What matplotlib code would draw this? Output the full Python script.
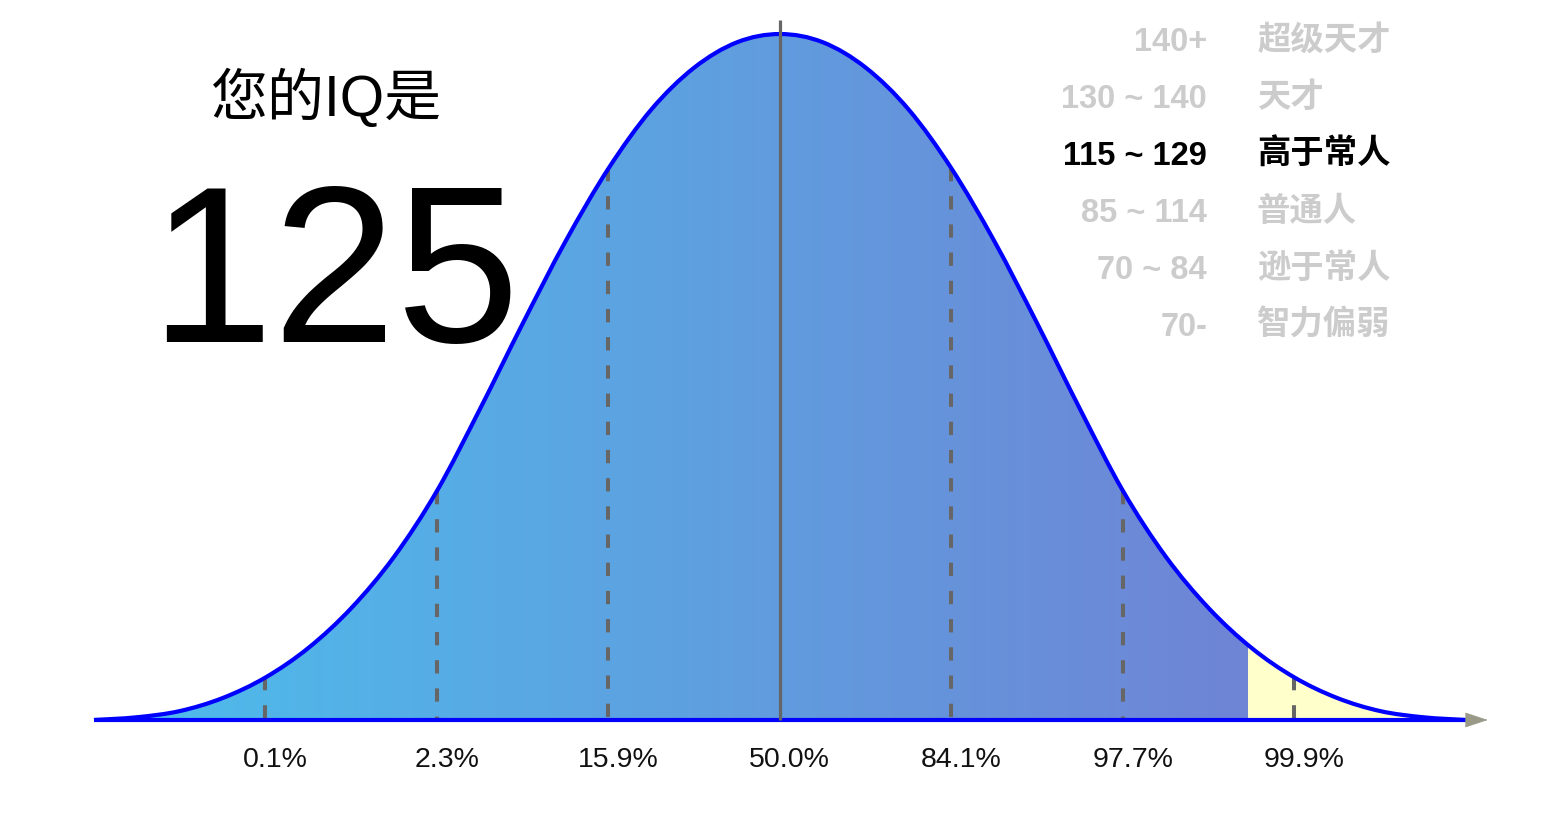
import numpy as np
import matplotlib.pyplot as plt
from matplotlib.path import Path
from matplotlib.patches import PathPatch

plt.rcParams['font.family'] = ['Liberation Sans', 'Noto Sans CJK SC', 'DejaVu Sans']

# bell curve (IQ, height relative to the peak)
curve_iq = [40.0, 43.75, 47.5, 51.25, 55.0, 58.75, 62.5, 66.25, 70.0, 73.75, 77.5,
            81.25, 85.0, 88.75, 92.5, 96.25, 100.0, 103.75, 107.5, 111.25, 115.0,
            118.75, 122.5, 126.25, 130.0, 133.75, 137.5, 141.25, 145.0, 148.75,
            152.5, 156.25, 160.0]
curve_h = [0.0, 0.004, 0.013, 0.032, 0.062, 0.105, 0.163, 0.238, 0.334, 0.453, 0.578,
           0.698, 0.804, 0.890, 0.951, 0.988, 1.0, 0.988, 0.951, 0.890, 0.804,
           0.698, 0.578, 0.453, 0.334, 0.238, 0.163, 0.105, 0.062, 0.032,
           0.013, 0.004, 0.0]

# sigma markers and their percentiles
marker_iq = [55, 70, 85, 100, 115, 130, 145]
marker_pct = ['0.1%', '2.3%', '15.9%', '50.0%', '84.1%', '97.7%', '99.9%']

# legend bands
band_ranges = ['140+', '130 ~ 140', '115 ~ 129', '85 ~ 114', '70 ~ 84', '70-']
band_names = ['超级天才', '天才', '高于常人', '普通人', '逊于常人', '智力偏弱']
current_band = 2

my_iq = 125
tail_start = 141  # where the yellow tail begins


def smooth_path(xs, ys):
    # catmull-rom through the read points, as cubic bezier pieces
    pts = np.column_stack([xs, ys])
    padded = np.vstack([pts[0], pts, pts[-1]])
    verts = [pts[0]]
    codes = [Path.MOVETO]
    for i in range(len(pts) - 1):
        p0, p1, p2, p3 = padded[i], padded[i + 1], padded[i + 2], padded[i + 3]
        verts += [p1 + (p2 - p0) / 6, p2 - (p3 - p1) / 6, p2]
        codes += [Path.CURVE4] * 3
    return verts, codes


fig = plt.figure(figsize=(15.54, 8.22), dpi=100)
ax = fig.add_axes([0, 0, 1, 1])
ax.set_xlim(31.78, 167.70)
ax.set_ylim(-0.1487, 1.0496)
ax.axis('off')

verts, codes = smooth_path(curve_iq, curve_h)

# filled area: gradient + yellow tail, clipped to the curve
fill_path = Path(verts + [(curve_iq[0], 0), (curve_iq[0], 0)],
                 codes + [Path.LINETO, Path.CLOSEPOLY])
clip = PathPatch(fill_path, facecolor='none', edgecolor='none')
ax.add_patch(clip)

gx = np.linspace(curve_iq[0], curve_iq[-1], 1400)
left_c = np.array([76, 190, 236]) / 255
right_c = np.array([111, 132, 213]) / 255
t = np.clip((gx - curve_iq[0]) / (tail_start - curve_iq[0]), 0, 1)[:, None]
img = left_c * (1 - t) + right_c * t
img[gx >= tail_start] = np.array([255, 255, 204]) / 255
im = ax.imshow(img[None, :, :], extent=[curve_iq[0], curve_iq[-1], 0, 1.02],
               aspect='auto', interpolation='nearest', zorder=1)
im.set_clip_path(clip)

# sigma lines
for iq in marker_iq:
    top = np.interp(iq, curve_iq, curve_h)
    if iq == 100:
        ax.plot([iq, iq], [0, 1.02], color='#666666', lw=2.3, zorder=5,
                solid_capstyle='butt')
    else:
        ax.plot([iq, iq], [top, 0], color='#666666', lw=2.9, zorder=2,
                dashes=(3.3, 3.7), dash_capstyle='butt')

# curve and axis
ax.add_patch(PathPatch(Path(verts, codes), facecolor='none', edgecolor='#0000ff',
                       lw=3, zorder=4))
ax.plot([curve_iq[0], curve_iq[-1]], [0, 0], color='#0000ff', lw=3, zorder=4,
        solid_capstyle='butt')
ax.annotate('', xy=(161.9, 0), xytext=(curve_iq[-1], 0),
            arrowprops=dict(arrowstyle='-|>,head_length=1.5,head_width=0.5',
                            color='#999988', mutation_scale=10,
                            shrinkA=0, shrinkB=0, lw=0.5), zorder=4)

# percentile labels
for iq, lab in zip(marker_iq, marker_pct):
    ax.annotate(lab, xy=(iq, 0), xytext=(7, -33.8), textcoords='offset points',
                ha='center', va='baseline', fontsize=20.5, color='#111111')

# headline
fig.text(327 / 1554, 1 - 116 / 822, '您的IQ是', fontsize=41, ha='center',
         va='baseline', color='black')
fig.text(334 / 1554, 1 - 342 / 822, str(my_iq), fontsize=160, ha='center',
         va='baseline', color='black')

# legend of bands
for i, (rng, name) in enumerate(zip(band_ranges, band_names)):
    col = 'black' if i == current_band else '#cccccc'
    yb = 1 - (51 + 57 * i) / 822
    fig.text(1207 / 1554, yb, rng, fontsize=23.5, fontweight='bold', ha='right',
             va='baseline', color=col)
    fig.text(1257 / 1554, yb + 1 / 822, name, fontsize=24, fontweight='bold',
             ha='left', va='baseline', color=col)

fig.savefig('out.png', dpi=100, facecolor='white')
